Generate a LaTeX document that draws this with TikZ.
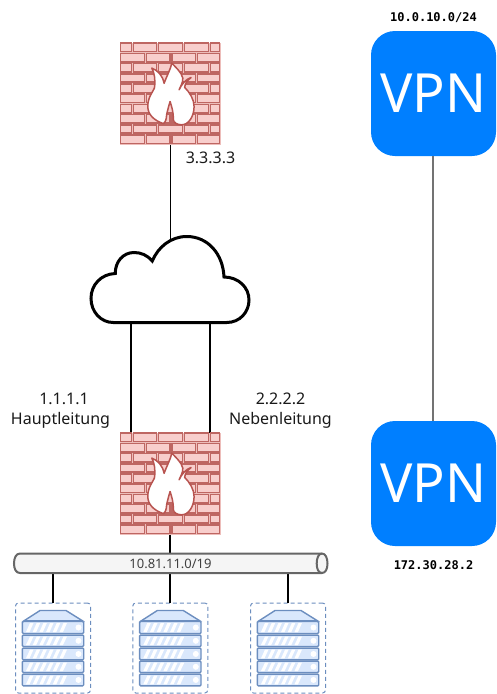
\documentclass[tikz,border=0pt]{standalone}
\usepackage{fontspec}
\setmainfont{Noto Sans}
\newfontfamily\monob[Scale=1]{DejaVu Sans Mono}
\usetikzlibrary{calc}
\definecolor{fwdark}{HTML}{BE6662}
\definecolor{fwfill}{HTML}{F8CECC}
\definecolor{fwgap}{HTML}{EDBDBA}
\definecolor{flameedge}{HTML}{B85450}
\definecolor{srvline}{HTML}{6C8EBF}
\definecolor{srvfill}{HTML}{DAE8FC}
\definecolor{vpnblue}{HTML}{007FFF}
\definecolor{tubeline}{HTML}{666666}
\definecolor{tubefill}{HTML}{F5F5F5}
\tikzset{
  fwbox/.style={rectangle,minimum width=101pt,minimum height=102pt,inner sep=0pt,fill=fwgap},
  brick/.style={draw=fwdark,fill=fwfill,line width=1.5pt},
  flame/.style={draw=flameedge,fill=white,line width=1.5pt,line join=round},
  srvbox/.style={rectangle,draw=srvline,dashed,dash pattern=on 4pt off 3pt,rounded corners=3pt,line width=1pt,minimum width=75pt,minimum height=90pt,inner sep=0pt},
  rack/.style={draw=srvline,fill=srvfill,line width=1.4pt,rounded corners=1pt},
  vpnbox/.style={rectangle,fill=vpnblue,rounded corners=24pt,minimum size=125pt,inner sep=0pt,text=white,font=\fontsize{54}{54}\selectfont},
  txt/.style={align=center,inner sep=0pt,font=\fontsize{16}{20}\selectfont,text=black!90},
  mono/.style={inner sep=0pt,font=\monob\bfseries\fontsize{12}{14}\selectfont},
  thinlink/.style={draw=black,line width=1pt},
  link/.style={draw=black,line width=2pt},
  vpnlink/.style={draw=black!55,line width=2pt},
}
\newcommand{\brickrow}[2]{% row index, type
  \pgfmathsetmacro{\ry}{0.9+#1*10.2}
  \pgfmathsetmacro{\rb}{\ry+8.4}
  \ifnum#2=0
    \foreach \a/\b in {0.9/11.8,13.9/36.8,38.9/62.8,64.9/88.8,90.9/100.1}{\path[brick] (\a,\ry) rectangle (\b,\rb);}
  \else
    \foreach \a/\b in {0.9/24.8,26.9/50.5,52.6/75.8,77.9/100.1}{\path[brick] (\a,\ry) rectangle (\b,\rb);}
  \fi}
\newcommand{\firewallart}[1]{%
  \begin{scope}[shift={(#1.north west)}]
    \brickrow{0}{0}\brickrow{1}{1}\brickrow{2}{0}\brickrow{3}{1}\brickrow{4}{0}
    \brickrow{5}{1}\brickrow{6}{0}\brickrow{7}{1}\brickrow{8}{0}\brickrow{9}{1}
    \path[flame] (43.8,81.3) .. controls (34,78) and (28.2,72) .. (28.2,64.2)
      .. controls (28.2,55) and (33,50) .. (34.8,45.8)
      .. controls (36,38) and (35,31) .. (32.2,25.8)
      .. controls (38,28) and (43,33) .. (44.5,41)
      .. controls (47,34) and (51,27) .. (52.2,20.8)
      .. controls (56,25) and (62,30) .. (63.2,35.8)
      .. controls (63.5,40) and (61,44) .. (59.5,47.5)
      .. controls (62,42) and (66,37) .. (71.5,35.2)
      .. controls (68,38) and (65.5,41) .. (65,45)
      .. controls (70,50) and (74.5,57) .. (74.5,64.2)
      .. controls (74.5,74) and (69,82.5) .. (62.2,82.5)
      .. controls (57,82.5) and (54,80) .. (53.8,77.5)
      .. controls (54,70) and (52,64) .. (50.5,59.2)
      .. controls (49,64) and (48,68) .. (47,72.5)
      .. controls (47,76) and (46,80) .. (43.8,81.3) -- cycle;
  \end{scope}}
\newcommand{\serverart}[1]{%
  \begin{scope}[shift={(#1.north west)}]
    \path[rack,rounded corners=0pt] (9,18.3) -- (25,8) -- (51,8) -- (67.5,18.3) -- cycle;
    \foreach \ya/\yb in {19/31,32.6/44,45.6/57.3,58.6/70,71.6/83.3}{
      \path[rack] (7.3,\ya) rectangle (68.7,\yb);
      \foreach \s in {0,...,5}{
        \fill[white] ({11+\s*6.7},\yb-1.5) -- ({14.5+\s*6.7},\yb-1.5) -- ({18.5+\s*6.7},\ya+1.5) -- ({15+\s*6.7},\ya+1.5) -- cycle;}
      \fill[white] (63.5,{(\ya+\yb)/2}) circle (3pt);
    }
  \end{scope}}
\begin{document}
\begin{tikzpicture}[x=1pt,y=-1pt]
\useasboundingbox (0,0) rectangle (496,694);
% nodes
\node[fwbox] (fwa) at (170.3,93.5) {};
\node[fwbox] (fwb) at (170.3,483.5) {};
\node[inner sep=0pt,minimum width=160pt,minimum height=88pt] (cloud) at (170,280) {};
\coordinate (cloudtop) at (170.3,239);
\coordinate (cloudl) at (130.5,323);
\coordinate (cloudr) at (210,323);
\coordinate (fwbl) at (130.5,433);
\coordinate (fwbr) at (210,433);
\coordinate (lana) at (53,573);
\coordinate (lanb) at (170.3,573);
\coordinate (lanc) at (288,573);
\coordinate (lantop) at (170.3,553);
\node[srvbox] (srva) at (53,648) {};
\node[srvbox] (srvb) at (170.3,648) {};
\node[srvbox] (srvc) at (288,648) {};
\node[vpnbox] (vpna) at (433.5,93.5) {VPN};
\node[vpnbox] (vpnb) at (433.5,483.5) {VPN};
\coordinate (vpnaout) at (433,156);
\coordinate (vpnbin) at (433,421);
% connectors
\draw[thinlink] (fwa.south) -- (cloudtop);
\draw[link] (cloudl) -- (fwbl);
\draw[link] (cloudr) -- (fwbr);
\draw[link] (fwb.south) -- (lantop);
\draw[link] (lana) -- (srva.north);
\draw[link] (lanb) -- (srvb.north);
\draw[link] (lanc) -- (srvc.north);
\draw[vpnlink] (vpnaout) -- (vpnbin);
% firewalls
\firewallart{fwa}
\firewallart{fwb}
% cloud
\draw[black,line width=3pt,fill=white,line join=miter]
  (113.3,322.5) -- (226.7,322.5)
  .. controls (240,322.5) and (249,312) .. (249,300)
  .. controls (249,287) and (238,277) .. (224,277)
  .. controls (223,254) and (208,236.5) .. (186.7,236.5)
  .. controls (171,236.5) and (158,247) .. (152.3,261)
  .. controls (147,255) and (141,252.5) .. (134,252.5)
  .. controls (123,252.5) and (115,262) .. (115.3,273.5)
  .. controls (101,274) and (91,285) .. (91,298.3)
  .. controls (91,312) and (101,322.5) .. (113.3,322.5) -- cycle;
% lan tube
\path[draw=tubeline,fill=tubefill,line width=2pt]
  (322,553.5) -- (20,553.5) .. controls (16,553.5) and (14,558) .. (14,563.5)
  .. controls (14,569) and (16,573) .. (20,573) -- (322,573)
  .. controls (325.5,573) and (327.5,569) .. (327.5,563.5)
  .. controls (327.5,558) and (325.5,553.5) .. (322,553.5) -- cycle;
\path[draw=tubeline,line width=2pt]
  (322,553.5) .. controls (318.5,553.5) and (316.7,558) .. (316.7,563.5)
  .. controls (316.7,569) and (318.5,573) .. (322,573);
\node[inner sep=0pt,font=\fontsize{13}{15}\selectfont,text=black!75] (lanlabel) at (170.5,564) {10.81.11.0/19};
% servers
\serverart{srva}
\serverart{srvb}
\serverart{srvc}
% texts
\node[txt] (ipa) at (210.5,158) {3.3.3.3};
\node[txt] (ipb) at (60.5,411) {\hspace*{7pt}1.1.1.1\\Hauptleitung};
\node[txt] (ipc) at (280.5,411) {2.2.2.2\\Nebenleitung};
\node[mono] (netb) at (433.5,18) {10.0.10.0/24};
\node[mono] (netc) at (433.5,565) {172.30.28.2};
\end{tikzpicture}
\end{document}
